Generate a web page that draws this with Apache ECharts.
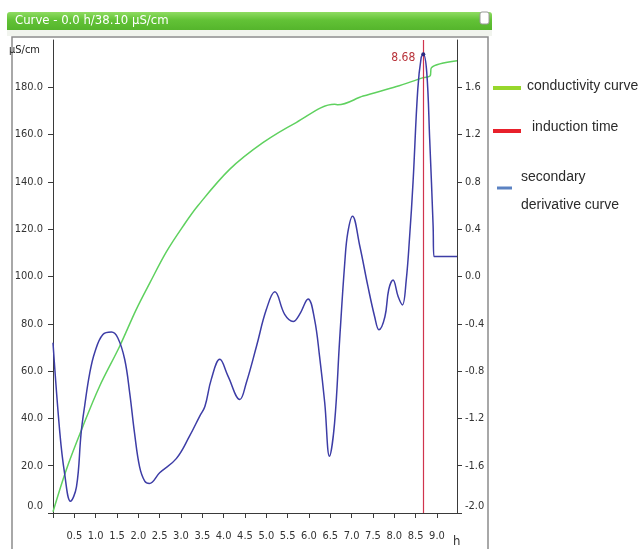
<!DOCTYPE html>
<html>
<head>
<meta charset="utf-8">
<script src="https://cdn.jsdelivr.net/npm/echarts@6/dist/echarts.min.js"></script>
<style>
  html, body { margin: 0; padding: 0; background: #ffffff; }
  #chart { width: 638px; height: 549px; }
</style>
</head>
<body>
<div id="chart"></div>
<script>
// Conductivity (µS/cm, left axis) against time (h)
const condHours = [0.00, 0.31, 0.70, 1.09, 1.56, 1.95, 2.27, 2.66, 3.05, 3.40, 4.14, 4.92, 5.70, 6.60, 6.68, 7.27, 8.05, 8.68, 8.84, 8.87, 9.47];
const condValues = [0.5, 18.2, 36.6, 53.5, 70.4, 86.0, 97.3, 110.5, 121.3, 130.0, 145.3, 156.6, 165.1, 172.8, 172.6, 176.3, 180.3, 184.1, 184.8, 188.3, 191.2];

// Second derivative of conductivity (right axis) against time (h)
const derivHours = [0.00, 0.16, 0.27, 0.41, 0.55, 0.66, 0.74, 0.86, 0.98, 1.17, 1.37, 1.52, 1.68, 1.80, 1.91, 2.03, 2.15, 2.26, 2.50, 2.89, 3.20, 3.44, 3.56, 3.71, 3.91, 4.10, 4.38, 4.53, 4.77, 5.00, 5.20, 5.43, 5.63, 5.78, 5.98, 6.13, 6.25, 6.37, 6.48, 6.60, 6.72, 6.84, 6.91, 7.02, 7.19, 7.38, 7.54, 7.64, 7.78, 7.87, 7.97, 8.09, 8.19, 8.28, 8.36, 8.44, 8.55, 8.63, 8.68, 8.76, 8.83, 8.91, 8.93, 8.96, 9.00, 9.47];
const derivValues = [-0.56, -1.32, -1.66, -1.90, -1.78, -1.32, -1.10, -0.82, -0.64, -0.49, -0.47, -0.52, -0.70, -0.99, -1.32, -1.61, -1.73, -1.75, -1.66, -1.54, -1.35, -1.18, -1.10, -0.87, -0.70, -0.84, -1.04, -0.90, -0.59, -0.28, -0.13, -0.32, -0.38, -0.32, -0.19, -0.36, -0.68, -1.07, -1.52, -1.24, -0.53, 0.12, 0.37, 0.51, 0.26, -0.08, -0.34, -0.45, -0.34, -0.11, -0.03, -0.17, -0.24, -0.03, 0.34, 0.80, 1.58, 1.85, 1.88, 1.73, 1.16, 0.43, 0.17, 0.17, 0.17, 0.17];

// Induction time (h)
const inductionTime = 8.68;

// Axis ticks and labels
const hourTicks = [0, 0.5, 1.0, 1.5, 2.0, 2.5, 3.0, 3.5, 4.0, 4.5, 5.0, 5.5, 6.0, 6.5, 7.0, 7.5, 8.0, 8.5, 9.0];
const hourLabels = [0.5, 1.0, 1.5, 2.0, 2.5, 3.0, 3.5, 4.0, 4.5, 5.0, 5.5, 6.0, 6.5, 7.0, 7.5, 8.0, 8.5, 9.0];

const titleText = 'Curve - 0.0 h/38.10 µS/cm';
const legendItems = ['conductivity curve', 'induction time', 'secondary', 'derivative curve'];

const narrow = "'DejaVu Sans Condensed', 'Liberation Sans', sans-serif";
const plain = "'Liberation Sans', Arial, sans-serif";

const chart = echarts.init(document.getElementById('chart'), null, { renderer: 'canvas' });

const pair = (xs, ys) => xs.map((x, i) => [x, ys[i]]);
const peakIndex = derivValues.indexOf(Math.max(...derivValues));

// lowest label of a y axis sits a little higher, clear of the time labels
const yLabel = (min) => (v) => (v === min ? '{low|' + v.toFixed(1) + '}' : v.toFixed(1));
const lowRich = { low: { padding: [0, 0, 14, 0], fontFamily: narrow, fontSize: 11, color: '#333' } };

chart.setOption({
  animation: false,
  backgroundColor: '#ffffff',
  grid: { left: 53, right: 181, top: 40, bottom: 36 },
  xAxis: {
    type: 'value',
    min: 0,
    max: 9.47,
    axisLine: { lineStyle: { color: '#3a3a3a', width: 1 } },
    axisTick: { customValues: hourTicks, length: 5, lineStyle: { color: '#3a3a3a' } },
    axisLabel: {
      customValues: hourLabels,
      formatter: v => v.toFixed(1),
      color: '#333', fontFamily: narrow, fontSize: 11, margin: 18
    },
    splitLine: { show: false },
    name: 'h',
    nameLocation: 'end',
    nameGap: -4,
    nameTextStyle: { color: '#333', fontFamily: narrow, fontSize: 13, verticalAlign: 'top', padding: [22, 0, 0, 0] }
  },
  yAxis: [
    {
      type: 'value',
      min: 0,
      max: 200,
      interval: 20,
      axisLine: { show: true, lineStyle: { color: '#3a3a3a', width: 1 } },
      axisTick: { show: true, length: 5, lineStyle: { color: '#3a3a3a' } },
      axisLabel: {
        formatter: yLabel(0),
        rich: lowRich,
        showMaxLabel: false,
        color: '#333', fontFamily: narrow, fontSize: 11, margin: 10
      },
      splitLine: { show: false },
      name: 'µS/cm',
      nameLocation: 'end',
      nameGap: -16,
      nameTextStyle: { color: '#222', fontFamily: narrow, fontSize: 11, align: 'right', padding: [0, 13, 0, 0] }
    },
    {
      type: 'value',
      min: -2,
      max: 2,
      interval: 0.4,
      position: 'right',
      axisLine: { show: true, lineStyle: { color: '#3a3a3a', width: 1 } },
      axisTick: { show: true, length: 5, lineStyle: { color: '#3a3a3a' } },
      axisLabel: {
        formatter: yLabel(-2),
        rich: lowRich,
        showMaxLabel: false,
        color: '#333', fontFamily: narrow, fontSize: 11, margin: 8
      },
      splitLine: { show: false }
    }
  ],
  series: [
    {
      name: 'conductivity curve',
      type: 'line',
      yAxisIndex: 0,
      data: pair(condHours, condValues),
      smooth: 0.35,
      symbol: 'none',
      lineStyle: { color: '#5fd15f', width: 1.5 },
      z: 3
    },
    {
      name: 'secondary derivative curve',
      type: 'line',
      yAxisIndex: 1,
      data: pair(derivHours, derivValues),
      smooth: 0.4,
      symbol: 'none',
      lineStyle: { color: '#3d3da6', width: 1.5 },
      z: 4,
      markPoint: {
        silent: true,
        symbol: 'circle',
        symbolSize: 4,
        itemStyle: { color: '#2a2a80' },
        label: {
          show: true,
          position: 'left',
          distance: 6,
          offset: [0, 4],
          formatter: () => inductionTime.toFixed(2),
          color: '#b8333a',
          fontFamily: narrow,
          fontSize: 12
        },
        data: [{ coord: [derivHours[peakIndex], derivValues[peakIndex]] }]
      }
    },
    {
      // induction time marker
      name: 'induction time',
      type: 'line',
      yAxisIndex: 1,
      data: [],
      z: 2,
      markLine: {
        silent: true,
        symbol: 'none',
        label: { show: false },
        lineStyle: { color: '#d0344e', width: 1.2, type: 'solid', opacity: 1 },
        data: [{ xAxis: inductionTime }]
      }
    }
  ],
  graphic: [
    // window title bar
    {
      type: 'rect',
      shape: { x: 7, y: 12, width: 485, height: 18, r: [3, 3, 0, 0] },
      style: {
        fill: new echarts.graphic.LinearGradient(0, 0, 0, 1, [
          { offset: 0, color: '#8fdc62' },
          { offset: 0.45, color: '#62c236' },
          { offset: 1, color: '#55b52c' }
        ])
      },
      z: 1
    },
    {
      type: 'rect',
      shape: { x: 480, y: 12, width: 9, height: 12, r: 2 },
      style: { fill: '#ffffff', stroke: '#9a9a9a', lineWidth: 1 },
      z: 2
    },
    {
      type: 'text',
      left: 15,
      top: 14,
      style: { text: titleText, fill: '#ffffff', font: '13px ' + narrow },
      z: 2
    },
    // band under the title bar
    {
      type: 'rect',
      shape: { x: 7, y: 30, width: 485, height: 6 },
      style: { fill: '#f1f4ee' },
      z: 0
    },
    // chart panel frame
    {
      type: 'rect',
      shape: { x: 12, y: 37, width: 476, height: 520 },
      style: { fill: 'none', stroke: '#8c8c8c', lineWidth: 1.5 },
      z: 0
    },
    // legend
    {
      type: 'line',
      shape: { x1: 493, y1: 88, x2: 521, y2: 88 },
      style: { stroke: '#97d72c', lineWidth: 4 },
      z: 2
    },
    {
      type: 'text',
      left: 527,
      top: 79,
      style: { text: legendItems[0], fill: '#2b2b2b', font: '14px ' + plain },
      z: 2
    },
    {
      type: 'line',
      shape: { x1: 493, y1: 131, x2: 521, y2: 131 },
      style: { stroke: '#e8202b', lineWidth: 4 },
      z: 2
    },
    {
      type: 'text',
      left: 532,
      top: 120,
      style: { text: legendItems[1], fill: '#2b2b2b', font: '14px ' + plain },
      z: 2
    },
    {
      type: 'line',
      shape: { x1: 497, y1: 188, x2: 512, y2: 188 },
      style: { stroke: '#5b82c2', lineWidth: 3 },
      z: 2
    },
    {
      type: 'text',
      left: 521,
      top: 170,
      style: { text: legendItems[2], fill: '#2b2b2b', font: '14px ' + plain },
      z: 2
    },
    {
      type: 'text',
      left: 521,
      top: 198,
      style: { text: legendItems[3], fill: '#2b2b2b', font: '14px ' + plain },
      z: 2
    }
  ]
});
</script>
</body>
</html>
